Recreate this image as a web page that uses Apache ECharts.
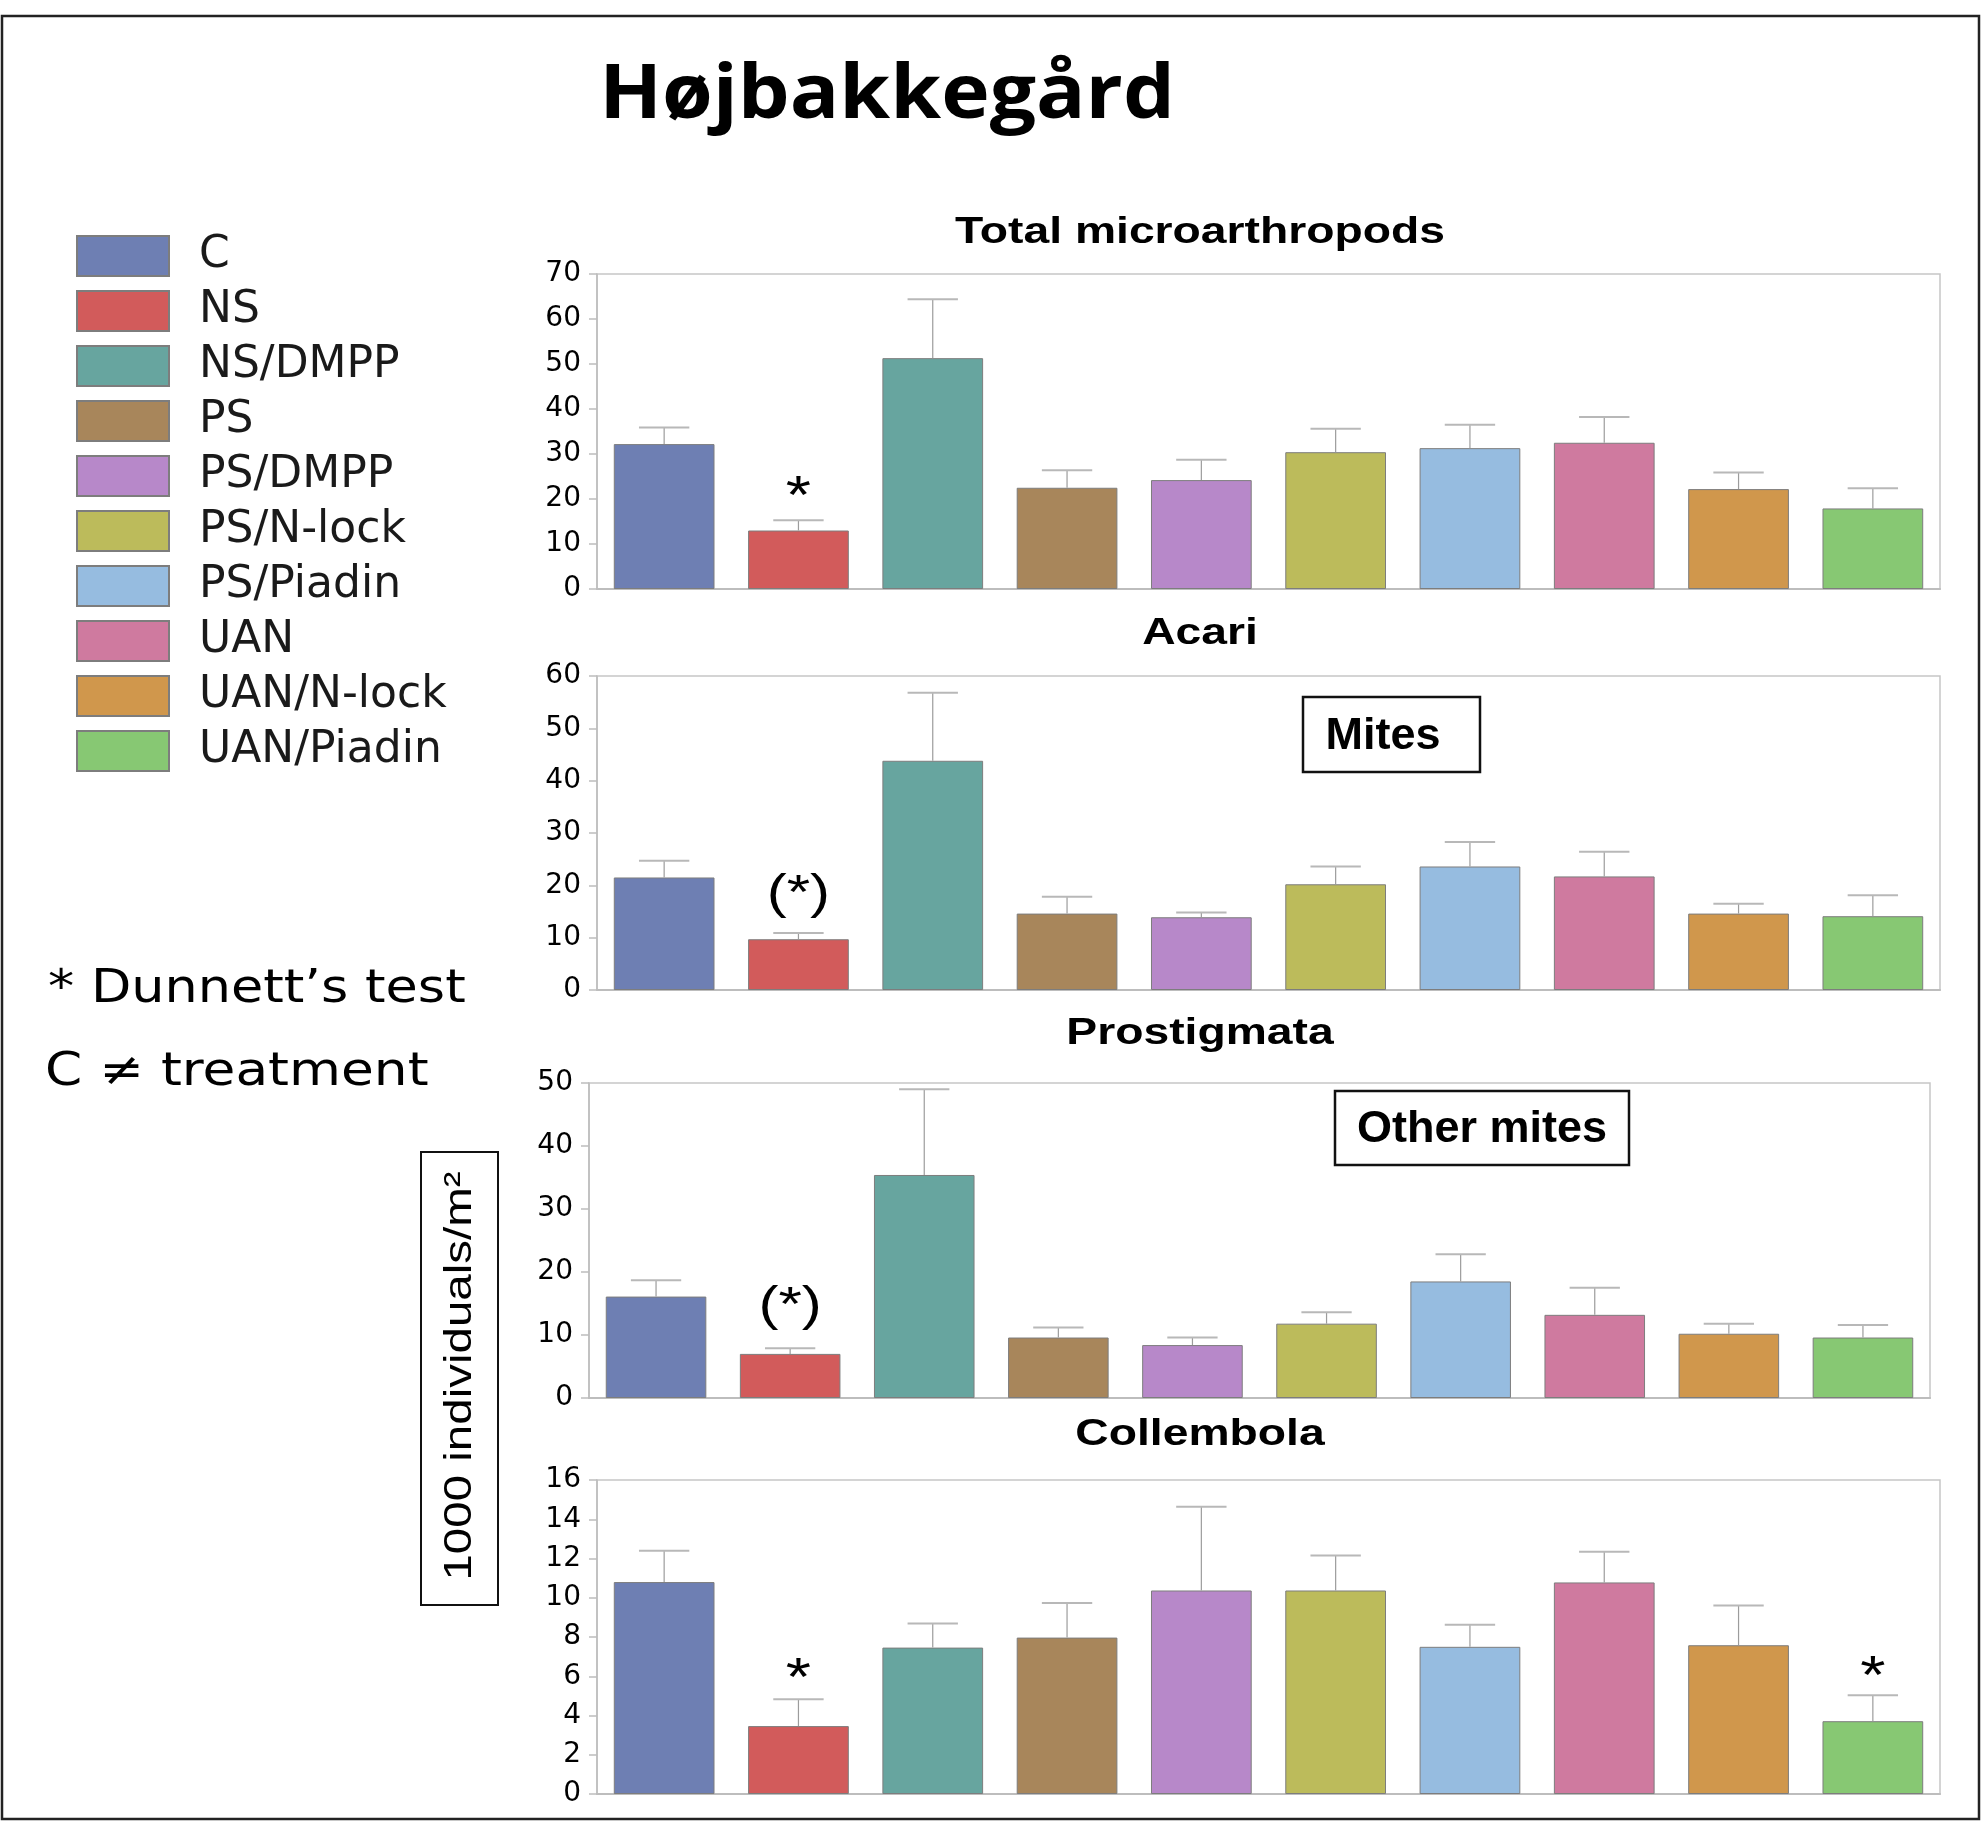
<!DOCTYPE html>
<html>
<head>
<meta charset="utf-8">
<script src="https://cdn.jsdelivr.net/npm/echarts@6/dist/echarts.min.js"></script>
<style>
  html, body { margin: 0; padding: 0; background: #ffffff; }
  #chart { width: 1982px; height: 1843px; }
</style>
</head>
<body>
<div id="chart"></div>
<script>
// Treatments (x categories, legend entries) and their bar colours
const treatments = ['C', 'NS', 'NS/DMPP', 'PS', 'PS/DMPP', 'PS/N-lock', 'PS/Piadin', 'UAN', 'UAN/N-lock', 'UAN/Piadin'];
const barColors = ['#6e7fb3', '#d25b5b', '#67a59f', '#a8865b', '#b788c9', '#bcbb5b', '#96bce0', '#cf7a9f', '#d0974c', '#87c873'];

// Panel titles
const panelTitles = ['Total microarthropods', 'Acari', 'Prostigmata', 'Collembola'];

// Means and standard errors, 1000 individuals/m2
const totalMean = [32.2, 13.0, 51.3, 22.5, 24.2, 30.4, 31.3, 32.5, 22.2, 17.9];
const totalSE   = [3.7, 2.3, 13.1, 3.9, 4.5, 5.2, 5.2, 5.7, 3.7, 4.5];
const acariMean = [21.5, 9.7, 43.8, 14.6, 13.9, 20.2, 23.6, 21.7, 14.6, 14.1];
const acariSE   = [3.2, 1.2, 13.0, 3.2, 0.9, 3.4, 4.7, 4.7, 1.9, 4.0];
const prostMean = [16.1, 7.0, 35.4, 9.6, 8.4, 11.8, 18.5, 13.2, 10.2, 9.6];
const prostSE   = [2.6, 0.9, 13.6, 1.6, 1.2, 1.8, 4.3, 4.3, 1.6, 2.0];
const collMean  = [10.8, 3.46, 7.46, 7.97, 10.37, 10.37, 7.5, 10.78, 7.58, 3.71];
const collSE    = [1.6, 1.37, 1.23, 1.76, 4.27, 1.78, 1.13, 1.56, 2.03, 1.32];

// Y-axis ranges (max, tick interval)
const yMax      = [70, 60, 50, 16];
const yInterval = [10, 10, 10, 2];

// Dunnett's test marks: [treatment index, text, height on the value axis]
const sigTotal = [[1, '*', 22.8]];
const sigAcari = [[1, '(*)', 18.2]];
const sigProst = [[1, '(*)', 14.5]];
const sigColl  = [[1, '*', 6.42], [9, '*', 6.53]];

const means = [totalMean, acariMean, prostMean, collMean];
const ses = [totalSE, acariSE, prostSE, collSE];
const sigs = [sigTotal, sigAcari, sigProst, sigColl];

const gridBoxes = [
  { left: 597, right: 42, top: 274, height: 315 },
  { left: 597, right: 42, top: 676, height: 314 },
  { left: 589, right: 52, top: 1083, height: 315 },
  { left: 597, right: 42, top: 1480, height: 314 }
];
const titleY = [233, 634, 1034, 1435];

const chart = echarts.init(document.getElementById('chart'), null, { renderer: 'canvas' });

const grid = gridBoxes.map(b => Object.assign({
  show: true, borderColor: '#c6c6c6', borderWidth: 1.5, backgroundColor: 'transparent'
}, b));

const xAxis = gridBoxes.map((b, g) => ({
  type: 'category', gridIndex: g, data: treatments,
  axisLabel: { show: false }, axisTick: { show: false },
  axisLine: { show: true, lineStyle: { color: '#bdbdbd', width: 2 } }
}));

const yAxis = gridBoxes.map((b, g) => ({
  type: 'value', gridIndex: g, min: 0, max: yMax[g], interval: yInterval[g],
  splitLine: { show: false },
  axisLine: { show: true, lineStyle: { color: '#bdbdbd', width: 1.5 } },
  axisTick: { show: true, inside: false, length: 8, lineStyle: { color: '#bdbdbd', width: 1.5 } },
  axisLabel: { fontFamily: 'DejaVu Sans', fontSize: 28, color: '#000', margin: 16 }
}));

const series = [];
means.forEach((vals, g) => {
  treatments.forEach((t, i) => {
    series.push({
      type: 'bar', name: t, xAxisIndex: g, yAxisIndex: g, stack: 'panel' + g,
      barWidth: '75%',
      data: treatments.map((_, j) => (j === i ? vals[i] : '-')),
      itemStyle: { color: barColors[i], borderColor: '#7d7d7d', borderWidth: 1 },
      emphasis: { disabled: true }
    });
  });
  // error bars (mean to mean + SE)
  series.push({
    type: 'custom', xAxisIndex: g, yAxisIndex: g, z: 5, silent: true,
    data: vals.map((m, i) => [i, m, m + ses[g][i]]),
    renderItem: (params, api) => {
      const base = api.coord([api.value(0), api.value(1)]);
      const top = api.coord([api.value(0), api.value(2)]);
      const half = api.size([1, 0])[0] * 0.75 * 0.25;
      return {
        type: 'group',
        children: [
          { type: 'line', shape: { x1: base[0], y1: base[1], x2: top[0], y2: top[1] },
            style: { stroke: '#9c9c9c', lineWidth: 1.2 } },
          { type: 'line', shape: { x1: top[0] - half, y1: top[1], x2: top[0] + half, y2: top[1] },
            style: { stroke: '#b8b8b8', lineWidth: 2 } }
        ]
      };
    }
  });
  // significance marks
  series.push({
    type: 'custom', xAxisIndex: g, yAxisIndex: g, z: 6, silent: true,
    data: sigs[g].map(s => [s[0], s[2], s[1]]),
    renderItem: (params, api) => {
      const p = api.coord([api.value(0), api.value(1)]);
      const txt = sigs[g][params.dataIndex][1];
      const star = txt === '*';
      return {
        type: 'text', x: p[0], y: p[1] + (star ? 12 : 0), scaleX: star ? 1.2 : 1.25,
        style: {
          text: txt, fontFamily: 'Liberation Sans', fontSize: star ? 54 : 48,
          fill: '#000', align: 'center', verticalAlign: 'middle'
        }
      };
    }
  });
});

const graphic = [
  // frame round the whole figure
  { type: 'rect', shape: { x: 2, y: 16, width: 1977, height: 1803 },
    style: { fill: 'none', stroke: '#222', lineWidth: 2.5 } },
  // site name
  { type: 'text', x: 887, y: 96, scaleX: 1.08,
    style: { text: 'Højbakkegård', fontFamily: 'Open Sans', fontWeight: 'bold', fontSize: 76,
             fill: '#000', align: 'center', verticalAlign: 'middle' } },
  // notes on the left
  { type: 'text', x: 48, y: 990, scaleX: 1.14,
    style: { text: '* Dunnett’s test', fontFamily: 'DejaVu Sans', fontSize: 46,
             fill: '#000', align: 'left', verticalAlign: 'middle' } },
  { type: 'text', x: 45, y: 1073, scaleX: 1.16,
    style: { text: 'C ≠ treatment', fontFamily: 'DejaVu Sans', fontSize: 46,
             fill: '#000', align: 'left', verticalAlign: 'middle' } },
  // shared y-axis caption
  { type: 'rect', shape: { x: 421, y: 1152, width: 77, height: 453 },
    style: { fill: '#fff', stroke: '#111', lineWidth: 2 } },
  { type: 'text', x: 461, y: 1376, rotation: Math.PI / 2, scaleX: 1.25,
    style: { text: '1000 individuals/m²', fontFamily: 'Liberation Sans', fontSize: 38,
             fill: '#000', align: 'center', verticalAlign: 'middle' } },
  // boxed group labels
  { type: 'rect', shape: { x: 1303, y: 697, width: 177, height: 75 },
    style: { fill: '#fff', stroke: '#111', lineWidth: 2.5 } },
  { type: 'text', x: 1383, y: 737,
    style: { text: 'Mites', fontFamily: 'Liberation Sans', fontWeight: 'bold', fontSize: 45,
             fill: '#000', align: 'center', verticalAlign: 'middle' } },
  { type: 'rect', shape: { x: 1335, y: 1091, width: 294, height: 74 },
    style: { fill: '#fff', stroke: '#111', lineWidth: 2.5 } },
  { type: 'text', x: 1482, y: 1130,
    style: { text: 'Other mites', fontFamily: 'Liberation Sans', fontWeight: 'bold', fontSize: 45,
             fill: '#000', align: 'center', verticalAlign: 'middle' } }
];
panelTitles.forEach((t, g) => {
  graphic.push({ type: 'text', x: 1200, y: titleY[g], scaleX: 1.25,
    style: { text: t, fontFamily: 'Liberation Sans', fontWeight: 'bold', fontSize: 37,
             fill: '#000', align: 'center', verticalAlign: 'middle' } });
});

chart.setOption({
  animation: false,
  backgroundColor: '#ffffff',
  legend: {
    data: treatments, orient: 'vertical', left: 76, top: 234, padding: 0,
    itemWidth: 92, itemHeight: 40, itemGap: 11, icon: 'rect', selectedMode: false,
    textStyle: { fontFamily: 'DejaVu Sans', fontSize: 44, color: '#1a1a1a', padding: [0, 0, 0, 25] }
  },
  grid, xAxis, yAxis, series, graphic
});
</script>
</body>
</html>
